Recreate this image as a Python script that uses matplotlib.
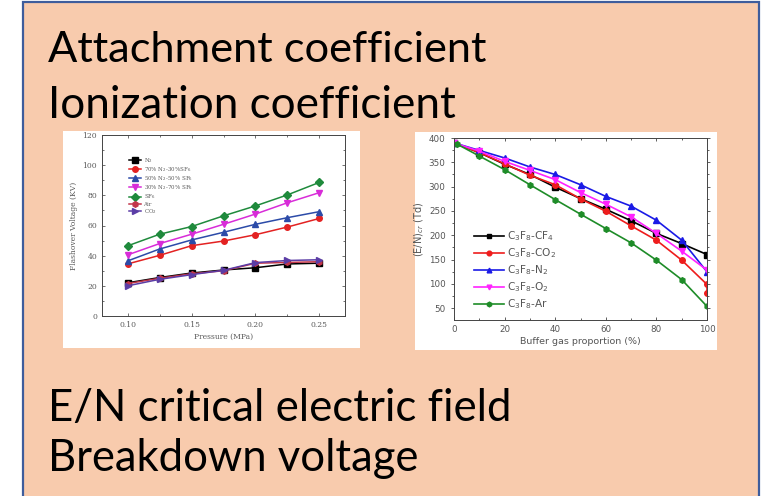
import matplotlib
matplotlib.use("Agg")
import matplotlib.pyplot as plt
from matplotlib.patches import Rectangle
from matplotlib.ticker import MultipleLocator

W, H = 762, 496

# slide text
lines = ["Attachment coefficient", "Ionization coefficient",
         "E/N critical electric field", "Breakdown voltage"]
line_base = [62, 118, 421, 471]
line_width = [439, 407, 462, 370]

# flashover voltage vs pressure
pressure = [0.10, 0.125, 0.15, 0.175, 0.20, 0.225, 0.25]
v_n2 = [22, 25.5, 28.5, 30.5, 32, 34.5, 35]
v_n2_70 = [34.5, 40.2, 46.6, 49.7, 53.9, 59, 64.7]
v_n2_50 = [36.5, 44.4, 50.4, 55.5, 60.8, 65.2, 69.2]
v_n2_30 = [40.5, 48, 54.2, 60.8, 67.6, 75.1, 81.8]
v_sf6 = [46.5, 54.2, 59.3, 66.4, 73, 80.3, 88.6]
v_air = [21.5, 25, 28, 30, 35, 35.5, 36]
v_co2 = [20, 24.3, 27.4, 30.3, 35.4, 36.8, 37.3]
left_labels = ["N$_2$", "70% N$_2$-30%SF$_6$", "50% N$_2$-50% SF$_6$",
               "30% N$_2$-70% SF$_6$", "SF$_6$", "Air", "CO$_2$"]

# (E/N)cr vs buffer gas proportion
buf = [0, 10, 20, 30, 40, 50, 60, 70, 80, 90, 100]
en_cf4 = [390, 370, 346, 325, 299, 275.5, 253.5, 230, 204, 183, 160.5]
buf_co2 = [0, 10, 20, 30, 40, 50, 60, 70, 80, 90, 100, 100]
en_co2 = [390, 370, 347, 323.5, 304, 275, 249.5, 219.5, 190, 149, 99, 81]
en_n2 = [390, 374.5, 359, 340.5, 325, 304, 280, 260, 231, 190, 125]
en_o2 = [390, 373, 352, 333.5, 314.5, 288, 264, 238, 204, 167.5, 128.5]
buf_ar = [1, 10, 20, 30, 40, 50, 60, 70, 80, 90, 100]
en_ar = [388, 363, 335, 304, 273.5, 243.5, 214, 184.5, 149, 109, 54]
right_labels = ["C$_3$F$_8$-CF$_4$", "C$_3$F$_8$-CO$_2$", "C$_3$F$_8$-N$_2$",
                "C$_3$F$_8$-O$_2$", "C$_3$F$_8$-Ar"]


def box(x0, y0, x1, y1):
    # pixel box (top-down) -> figure fractions
    return [x0 / W, 1 - y1 / H, (x1 - x0) / W, (y1 - y0) / H]


fig = plt.figure(figsize=(W / 100, H / 100), dpi=100)
fig.patch.set_facecolor("white")

fig.patches.append(Rectangle((23 / W, -0.01), 736 / W, 1 - 2 / H + 0.01,
                             transform=fig.transFigure, facecolor="#F8CBAD",
                             edgecolor="#3E5D9C", linewidth=1.6, zorder=0))

renderer = fig.canvas.get_renderer()
for s, yb, tw in zip(lines, line_base, line_width):
    t = fig.text(48 / W, 1 - yb / H, s, fontsize=30, family="Lato",
                 va="baseline", ha="left", color="black")
    w = t.get_window_extent(renderer).width
    t.set_fontsize(30 * tw / w)

# white panels behind the two plots
for b in [box(63, 131, 360, 348), box(415, 132, 717, 350)]:
    fig.patches.append(Rectangle((b[0], b[1]), b[2], b[3],
                                 transform=fig.transFigure,
                                 facecolor="white", edgecolor="none", zorder=1))

# left plot
gray = "#5a5a5a"
ax1 = fig.add_axes(box(102, 135, 345, 316))
ax1.set_zorder(2)
series = [v_n2, v_n2_70, v_n2_50, v_n2_30, v_sf6, v_air, v_co2]
colors = ["black", "#E32222", "#2C4BA8", "#D82CD8", "#1F8A3C", "#C2354A", "#5B3DA6"]
marks = ["s", "o", "^", "v", "D", "h", ">"]
for vals, c, m, lab in zip(series, colors, marks, left_labels):
    ax1.plot(pressure, vals, color=c, marker=m, markersize=4, lw=1.1, label=lab)
ax1.set_xlim(0.08, 0.27)
ax1.set_ylim(0, 120)
ax1.xaxis.set_major_locator(MultipleLocator(0.05))
ax1.xaxis.set_minor_locator(MultipleLocator(0.025))
ax1.yaxis.set_major_locator(MultipleLocator(20))
ax1.yaxis.set_minor_locator(MultipleLocator(10))
ax1.xaxis.set_major_formatter(matplotlib.ticker.FormatStrFormatter("%.2f"))
ax1.tick_params(which="both", direction="in", top=True, right=True,
                labelsize=5.5, colors=gray, labelcolor=gray, width=0.6)
ax1.tick_params(which="major", length=2.5)
ax1.tick_params(which="minor", length=1.5)
for sp in ax1.spines.values():
    sp.set_color("#444")
    sp.set_linewidth(0.7)
for lab in ax1.get_xticklabels() + ax1.get_yticklabels():
    lab.set_family("DejaVu Serif")
ax1.set_xlabel("Pressure (MPa)", fontsize=5.5, color=gray, family="DejaVu Serif", labelpad=3)
ax1.set_ylabel("Flashover Voltage (KV)", fontsize=5.5, color=gray, family="DejaVu Serif", labelpad=3)
leg1 = ax1.legend(loc="upper left", bbox_to_anchor=(0.1, 0.9), frameon=False,
                  labelspacing=0.05, handlelength=2.2, handletextpad=0.4,
                  borderpad=0, prop={"family": "DejaVu Serif", "size": 4})
for txt in leg1.get_texts():
    txt.set_color(gray)

# right plot
ax2 = fig.add_axes(box(454, 138, 707, 320))
ax2.set_zorder(2)
rseries = [(buf, en_cf4), (buf_co2, en_co2), (buf, en_n2), (buf, en_o2), (buf_ar, en_ar)]
rcolors = ["black", "#EE1C1C", "#1A1AE6", "#FF22FF", "#1E8C28"]
rmarks = ["s", "o", "^", "v", "h"]
for (xs, ys), c, m, lab in zip(rseries, rcolors, rmarks, right_labels):
    ax2.plot(xs, ys, color=c, marker=m, markersize=4, lw=1.2, label=lab)
ax2.set_xlim(0, 100)
ax2.set_ylim(26, 400)
ax2.xaxis.set_major_locator(MultipleLocator(20))
ax2.xaxis.set_minor_locator(MultipleLocator(10))
ax2.yaxis.set_major_locator(MultipleLocator(50))
ax2.yaxis.set_minor_locator(MultipleLocator(25))
ax2.set_yticks([50, 100, 150, 200, 250, 300, 350, 400])
ax2.tick_params(which="both", direction="in", top=True, right=True,
                labelsize=6.3, colors="#444", labelcolor="#555", width=0.6)
ax2.tick_params(axis="y", which="both", direction="out", left=True)
ax2.tick_params(which="major", length=2.5)
ax2.tick_params(which="minor", length=1.5)
for sp in ax2.spines.values():
    sp.set_color("#444")
    sp.set_linewidth(0.7)
ax2.set_xlabel("Buffer gas proportion (%)", fontsize=6.8, color="#555", labelpad=2)
ax2.set_ylabel("(E/N)$_{cr}$ (Td)", fontsize=7, color="#555", labelpad=2)
leg2 = ax2.legend(loc="lower left", bbox_to_anchor=(0.06, 0.02), frameon=False,
                  fontsize=7.6, labelspacing=0.3, handlelength=2.8, handletextpad=0.3,
                  borderpad=0, markerscale=0.85)
for txt in leg2.get_texts():
    txt.set_color("#555")

fig.savefig("out.png", dpi=100, facecolor="white")
